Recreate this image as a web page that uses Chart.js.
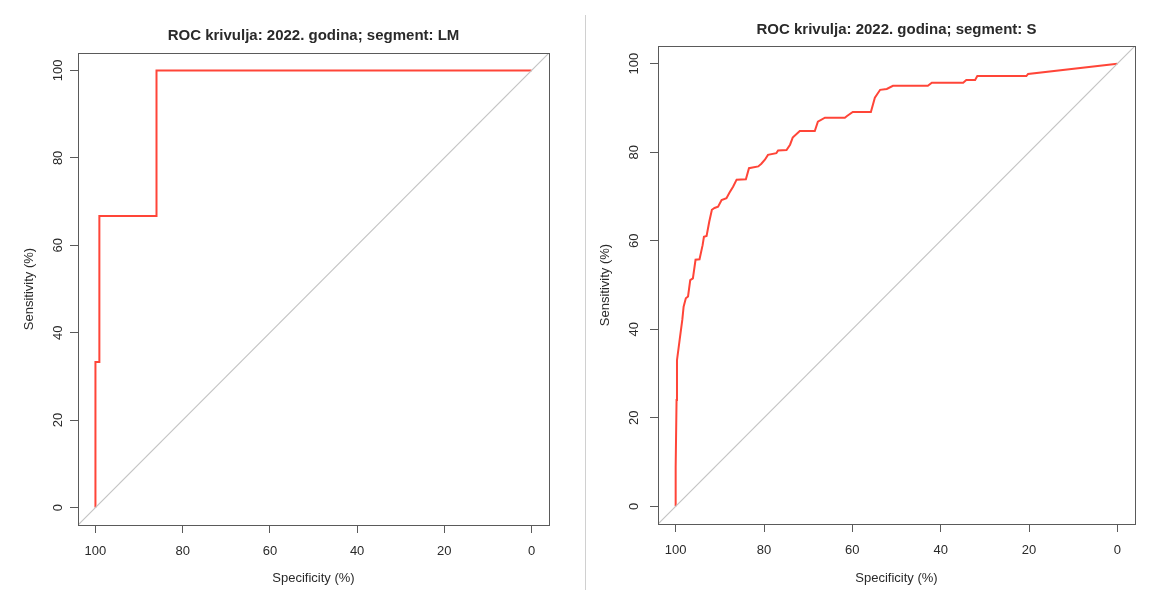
<!DOCTYPE html>
<html>
<head>
<meta charset="utf-8">
<script src="https://cdn.jsdelivr.net/npm/chart.js@4/dist/chart.umd.min.js"></script>
<style>
  body { margin: 0; background: #fff; width: 1160px; height: 590px; position: relative; overflow: hidden; }
  canvas { position: absolute; top: 0; }
  #leftChart { left: 0; }
  #rightChart { left: 590px; }
  #divider { position: absolute; left: 585px; top: 15px; width: 0; height: 575px; border-left: 1px solid #d0d0d0; }
</style>
</head>
<body>
<canvas id="leftChart" width="580" height="590"></canvas>
<div id="divider"></div>
<canvas id="rightChart" width="570" height="590"></canvas>
<script>
// ROC curves (specificity %, sensitivity %)
const lmSpecificity = [100, 100, 99.1, 99.1, 86, 86, 0];
const lmSensitivity = [0, 33.3, 33.3, 66.7, 66.7, 100, 100];

const sSpecificity = [100, 100, 99.8, 99.7, 99.1, 98.5, 98.2, 97.7, 97.2, 96.7, 96.1, 95.5, 94.6, 93.9, 93.6, 93.0,
    92.4, 91.8, 91.2, 90.4, 89.6, 88.5, 87.8, 87.0, 86.2, 84.1, 83.4, 81.3, 80.6, 79.8, 79.1, 77.2, 76.8, 74.9,
    74.1, 73.5, 71.9, 68.5, 67.8, 66.2, 61.7, 61.2, 59.9, 55.8, 54.9, 53.7, 52.2, 50.8, 42.9, 42.0, 34.9, 34.2,
    32.2, 31.7, 20.6, 20.2, 0];
const sSensitivity = [0, 8.8, 24.0, 33.0, 37.6, 42.1, 45.1, 47.0, 47.4, 51.1, 51.5, 55.7, 55.8, 59.0, 60.9, 61.1,
    64.3, 67.0, 67.4, 67.7, 69.2, 69.6, 70.9, 72.2, 73.8, 73.9, 76.4, 76.8, 77.4, 78.3, 79.4, 79.8, 80.4, 80.5,
    81.7, 83.3, 84.8, 84.8, 86.9, 87.8, 87.8, 88.2, 89.1, 89.1, 92.3, 94.1, 94.3, 95.0, 95.0, 95.7, 95.7, 96.3,
    96.3, 97.2, 97.2, 97.7, 100];

// reference diagonal, spanning the whole box like R's abline
const diagSpecificity = [104, -4];
const diagSensitivity = [-4, 104];

const tickValues = [0, 20, 40, 60, 80, 100];

const titleLM = 'ROC krivulja: 2022. godina; segment: LM';
const titleS = 'ROC krivulja: 2022. godina; segment: S';
const xLabel = 'Specificity (%)';
const yLabel = 'Sensitivity (%)';

const FONT = '"Liberation Sans", Arial, Helvetica, sans-serif';
const TEXT = '#2a2a2a';
const FRAME = '#5a5a5a';

function toPoints(xs, ys) {
    return xs.map((x, i) => ({ x: x, y: ys[i] }));
}

// R style box around the plot and vertical y tick labels
const rBox = {
    id: 'rBox',
    afterDraw(chart, args, opts) {
        const ctx = chart.ctx;
        const a = chart.chartArea;
        ctx.save();
        ctx.strokeStyle = FRAME;
        ctx.lineWidth = 1;
        ctx.strokeRect(Math.round(a.left) + 0.5, Math.round(a.top) + 0.5,
            Math.round(a.right - a.left), Math.round(a.bottom - a.top));
        ctx.fillStyle = TEXT;
        ctx.font = '13px ' + FONT;
        ctx.textAlign = 'center';
        ctx.textBaseline = 'middle';
        tickValues.forEach(v => {
            const y = chart.scales.y.getPixelForValue(v);
            ctx.save();
            ctx.translate(opts.labelX, y);
            ctx.rotate(-Math.PI / 2);
            ctx.fillText(String(v), 0, 0);
            ctx.restore();
        });
        ctx.restore();
    }
};

function makeChart(id, cfg) {
    const ctx = document.getElementById(id).getContext('2d');
    return new Chart(ctx, {
        type: 'scatter',
        data: {
            datasets: [
                {
                    data: toPoints(diagSpecificity, diagSensitivity),
                    showLine: true,
                    borderColor: '#c4c4c4',
                    borderWidth: 1.2,
                    pointRadius: 0,
                },
                {
                    data: toPoints(cfg.spec, cfg.sens),
                    showLine: true,
                    borderColor: '#ff4538',
                    borderWidth: 2,
                    pointRadius: 0,
                },
            ],
        },
        options: {
            responsive: false,
            animation: false,
            devicePixelRatio: 1,
            layout: { padding: { left: 0, right: cfg.padRight, top: 0, bottom: 0 } },
            plugins: {
                legend: { display: false },
                tooltip: { enabled: false },
                title: {
                    display: true,
                    text: cfg.title,
                    fullSize: false,
                    color: TEXT,
                    font: { family: FONT, size: 15, weight: 'bold' },
                    padding: { top: cfg.titleTop, bottom: cfg.titleBottom },
                },
                rBox: { labelX: cfg.yTickX },
            },
            scales: {
                x: {
                    type: 'linear',
                    reverse: true,
                    min: -4,
                    max: 104,
                    afterBuildTicks: s => { s.ticks = tickValues.map(v => ({ value: v })); },
                    afterFit: s => { s.height = cfg.xAxisH; },
                    border: { display: false },
                    grid: { drawOnChartArea: false, drawTicks: true, tickLength: 8, color: FRAME },
                    ticks: {
                        color: TEXT, padding: cfg.xTickPad, maxRotation: 0,
                        font: { family: FONT, size: 13 },
                    },
                    title: {
                        display: true, text: xLabel, color: TEXT,
                        font: { family: FONT, size: 13 },
                        padding: { top: 0, bottom: 4 },
                    },
                },
                y: {
                    type: 'linear',
                    min: -4,
                    max: 104,
                    afterBuildTicks: s => { s.ticks = tickValues.map(v => ({ value: v })); },
                    afterFit: s => { s.width = cfg.yAxisW; },
                    border: { display: false },
                    grid: { drawOnChartArea: false, drawTicks: true, tickLength: 8, color: FRAME },
                    ticks: { display: false },
                    title: {
                        display: true, text: yLabel, color: TEXT,
                        font: { family: FONT, size: 13 },
                        padding: { top: cfg.yTitlePad, bottom: 0 },
                    },
                },
            },
        },
        plugins: [rBox],
    });
}

makeChart('leftChart', {
    spec: lmSpecificity, sens: lmSensitivity, title: titleLM,
    padRight: 31, yAxisW: 78, xAxisH: 65, titleTop: 27, titleBottom: 8,
    xTickPad: 11, yTitlePad: 22, yTickX: 58,
});

makeChart('rightChart', {
    spec: sSpecificity, sens: sSensitivity, title: titleS,
    padRight: 25, yAxisW: 68, xAxisH: 66, titleTop: 21, titleBottom: 7,
    xTickPad: 11, yTitlePad: 8, yTickX: 44,
});
</script>
</body>
</html>
